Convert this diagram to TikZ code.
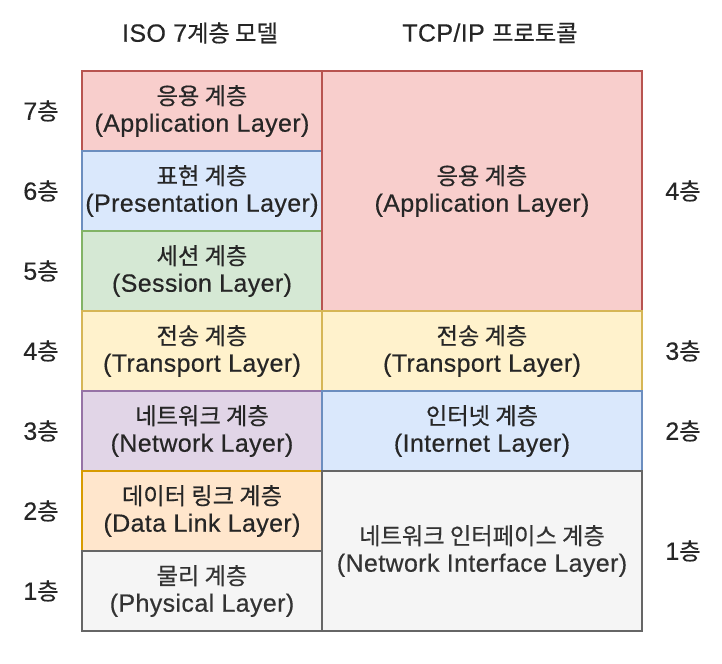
\documentclass[tikz,border=0pt]{standalone}
\usepackage{fontspec}
\setmainfont{Liberation Sans}[LetterSpace=1.5, FakeBold=0.4]
\newfontfamily\kr{Noto Sans CJK KR}[Scale=0.93, FakeBold=0.5]

\definecolor{redfill}{HTML}{F8CECC}\definecolor{redline}{HTML}{B85450}
\definecolor{bluefill}{HTML}{DAE8FC}\definecolor{blueline}{HTML}{6C8EBF}
\definecolor{greenfill}{HTML}{D5E8D4}\definecolor{greenline}{HTML}{82B366}
\definecolor{yellowfill}{HTML}{FFF2CC}\definecolor{yellowline}{HTML}{D6B656}
\definecolor{purplefill}{HTML}{E1D5E7}\definecolor{purpleline}{HTML}{9673A6}
\definecolor{orangefill}{HTML}{FFE6CC}\definecolor{orangeline}{HTML}{D79B00}
\definecolor{grayfill}{HTML}{F5F5F5}\definecolor{grayline}{HTML}{666666}
\definecolor{graytext}{HTML}{333333}

\tikzset{
  txt/.style={font=\fontsize{18.75}{20.5}\selectfont, text=black!85},
  layer/.style={txt, draw, line width=1.2pt, align=center, inner sep=0pt},
  isobox/.style={layer, minimum width=180pt, minimum height=60pt},
  tcpbox/.style={layer, minimum width=240pt},
  red/.style={fill=redfill, draw=redline},
  blue/.style={fill=bluefill, draw=blueline},
  green/.style={fill=greenfill, draw=greenline},
  yellow/.style={fill=yellowfill, draw=yellowline},
  purple/.style={fill=purplefill, draw=purpleline},
  orange/.style={fill=orangefill, draw=orangeline},
  gray/.style={fill=grayfill, draw=grayline, text=graytext}
}

\begin{document}
\begin{tikzpicture}[x=0.75pt, y=-0.75pt]
  \useasboundingbox (0,0) rectangle (722,664);

  % Headers
  \node[txt] (hiso) at (200,33) {ISO 7{\kr 계층 모델}};
  \node[txt] (htcp) at (490,33) {TCP/IP {\kr 프로토콜}};

  % ISO column
  \node[isobox, red]    (app7) at (202,111) {{\kr 응용 계층}\\(Application Layer)};
  \node[isobox, blue]   (pre6) at (202,191) {{\kr 표현 계층}\\(Presentation Layer)};
  \node[isobox, green]  (ses5) at (202,271) {{\kr 세션 계층}\\(Session Layer)};
  \node[isobox, yellow] (tra4) at (202,351) {{\kr 전송 계층}\\(Transport Layer)};
  \node[isobox, purple] (net3) at (202,431) {{\kr 네트워크 계층}\\(Network Layer)};
  \node[isobox, orange] (dat2) at (202,511) {{\kr 데이터 링크 계층}\\(Data Link Layer)};
  \node[isobox, gray]   (phy1) at (202,591) {{\kr 물리 계층}\\(Physical Layer)};

  % TCP/IP column
  \node[tcpbox, red, minimum height=180pt]   (tapp) at (482,191) {{\kr 응용 계층}\\(Application Layer)};
  \node[tcpbox, yellow, minimum height=60pt] (ttra) at (482,351) {{\kr 전송 계층}\\(Transport Layer)};
  \node[tcpbox, blue, minimum height=60pt]   (tint) at (482,431) {{\kr 인터넷 계층}\\(Internet Layer)};
  \node[tcpbox, gray, minimum height=120pt]  (tnif) at (482,551) {{\kr 네트워크 인터페이스 계층}\\(Network Interface Layer)};

  % Layer numbers
  \foreach \n in {1,...,7}
    \node[txt] (l\n) at (41,{111+80*(7-\n)}) {\n{\kr 층}};
  \foreach \n/\y in {4/191, 3/351, 2/431, 1/551}
    \node[txt] (r\n) at (683,\y) {\n{\kr 층}};
\end{tikzpicture}
\end{document}
